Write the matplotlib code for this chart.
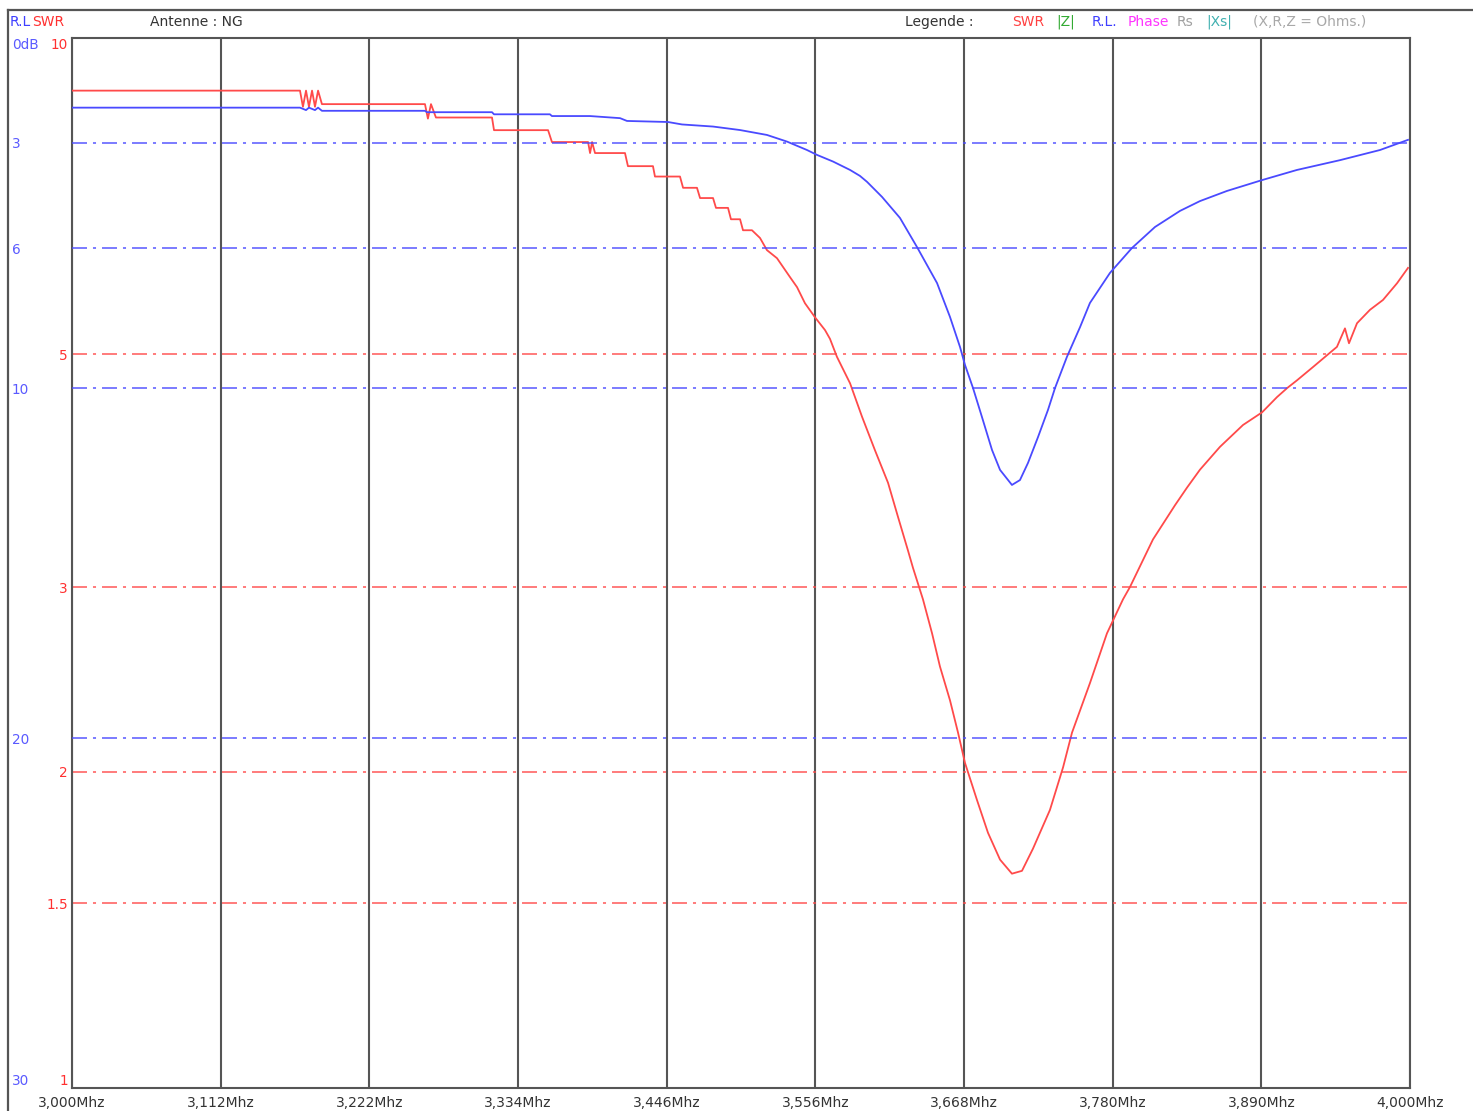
import matplotlib
matplotlib.use("Agg")
import matplotlib.pyplot as plt
from matplotlib.lines import Line2D
from matplotlib.ticker import NullLocator

plt.rcParams["font.family"] = ["DejaVu Sans"]
plt.rcParams["lines.scale_dashes"] = False

# ---- sweep data (frequency in MHz) ----
swr_freq = [3.0000, 3.1704, 3.1726, 3.1749, 3.1771, 3.1794, 3.1816, 3.1839, 3.1868,
            3.2638, 3.2660, 3.2683, 3.2720, 3.3139, 3.3154, 3.3558, 3.3587, 3.3857,
            3.3872, 3.3887, 3.3909, 3.4133, 3.4155, 3.4342, 3.4357, 3.4544, 3.4567,
            3.4671, 3.4694, 3.4791, 3.4813, 3.4903, 3.4925, 3.4993, 3.5015, 3.5082,
            3.5142, 3.5194, 3.5269, 3.5366, 3.5419, 3.5478, 3.5553, 3.5628, 3.5665,
            3.5717, 3.5815, 3.5904, 3.6001, 3.6099, 3.6173, 3.6248, 3.6285, 3.6360,
            3.6428, 3.6487, 3.6562, 3.6622, 3.6674, 3.6764, 3.6846, 3.6936, 3.7025,
            3.7100, 3.7182, 3.7309, 3.7407, 3.7474, 3.7608, 3.7735, 3.7855, 3.7907,
            3.8079, 3.8244, 3.8333, 3.8430, 3.8580, 3.8752, 3.8894, 3.9006, 3.9081,
            3.9155, 3.9275, 3.9454, 3.9514, 3.9544, 3.9604, 3.9701, 3.9798, 3.9903,
            3.9985]
swr_vals = [8.91, 8.91, 8.60, 8.91, 8.60, 8.91, 8.60, 8.91, 8.65,
            8.65, 8.38, 8.65, 8.40, 8.40, 8.17, 8.17, 7.96, 7.96,
            7.77, 7.96, 7.77, 7.77, 7.55, 7.55, 7.38, 7.38, 7.20,
            7.20, 7.04, 7.04, 6.89, 6.89, 6.72, 6.72, 6.56, 6.56,
            6.45, 6.28, 6.17, 5.92, 5.79, 5.59, 5.42, 5.27, 5.17,
            4.97, 4.69, 4.36, 4.05, 3.77, 3.50, 3.25, 3.13, 2.92,
            2.71, 2.52, 2.34, 2.18, 2.04, 1.88, 1.75, 1.65, 1.60,
            1.61, 1.69, 1.84, 2.02, 2.18, 2.43, 2.71, 2.92, 3.00,
            3.33, 3.59, 3.73, 3.88, 4.08, 4.28, 4.40, 4.55, 4.64,
            4.72, 4.86, 5.08, 5.29, 5.12, 5.35, 5.51, 5.63, 5.84,
            6.04]

rl_freq = [3.0000, 3.1704, 3.1749, 3.1771, 3.1816, 3.1839, 3.1868, 3.2638, 3.2653,
           3.3139, 3.3154, 3.3572, 3.3587, 3.3871, 3.4096, 3.4148, 3.4454, 3.4559,
           3.4791, 3.4993, 3.5194, 3.5344, 3.5493, 3.5568, 3.5688, 3.5815, 3.5889,
           3.5942, 3.6054, 3.6188, 3.6315, 3.6465, 3.6562, 3.6637, 3.6674, 3.6734,
           3.6801, 3.6876, 3.6936, 3.7025, 3.7085, 3.7145, 3.7220, 3.7294, 3.7347,
           3.7436, 3.7534, 3.7608, 3.7758, 3.7922, 3.8094, 3.8281, 3.8430, 3.8632,
           3.8894, 3.9155, 3.9477, 3.9776, 3.9985]
rl_vals = [1.99, 1.99, 2.06, 1.99, 2.06, 1.99, 2.08, 2.08, 2.12,
           2.12, 2.18, 2.18, 2.23, 2.23, 2.29, 2.37, 2.40, 2.47,
           2.53, 2.63, 2.77, 2.96, 3.20, 3.34, 3.53, 3.77, 3.94,
           4.11, 4.54, 5.14, 5.97, 7.00, 7.97, 8.83, 9.34, 10.00,
           10.83, 11.77, 12.34, 12.77, 12.63, 12.14, 11.40, 10.63, 10.00,
           9.11, 8.26, 7.57, 6.71, 6.00, 5.40, 4.94, 4.66, 4.37,
           4.06, 3.77, 3.49, 3.20, 2.91]

# ---- axis scales and labels ----
freq_ticks = [3.0 + i / 9 for i in range(10)]
freq_labels = ["3,000Mhz", "3,112Mhz", "3,222Mhz", "3,334Mhz", "3,446Mhz",
               "3,556Mhz", "3,668Mhz", "3,780Mhz", "3,890Mhz", "4,000Mhz"]
swr_ticks = [1, 1.5, 2, 3, 5, 10]
swr_labels = ["1", "1.5", "2", "3", "5", "10"]
swr_grid = [1.5, 2, 3, 5]
rl_ticks = [0, 3, 6, 10, 20, 30]
rl_labels = ["0dB", "3", "6", "10", "20", "30"]
rl_grid = [3, 6, 10, 20]

RED = "#ff4a4a"
BLUE = "#4a4aff"
GRID = "#555555"
DASHDOT = (0, (10.8, 4.3, 2.2, 4.3))

W, H = 1473, 1111
fig = plt.figure(figsize=(W / 100, H / 100), dpi=100)
L, R, T, B = 72, 1410, 38, 1088
ax = fig.add_axes([L / W, 1 - B / H, (R - L) / W, (B - T) / H])

# SWR on a log scale
ax.set_yscale("log")
ax.set_ylim(1, 10)
ax.set_xlim(3.0, 4.0)
ax.yaxis.set_minor_locator(NullLocator())
ax.set_yticks(swr_ticks)
ax.set_yticklabels(swr_labels)
ax.tick_params(axis="y", length=0, pad=3, labelcolor="#ff3030", labelsize=9.8)
ax.set_xticks(freq_ticks)
ax.set_xticklabels(freq_labels)
ax.tick_params(axis="x", length=0, pad=6, labelcolor="#333333", labelsize=10)
ax.grid(axis="x", color=GRID, lw=1.5)
ax.set_axisbelow(True)
for s in ax.spines.values():
    s.set_color(GRID)
    s.set_linewidth(1.5)

for lvl in swr_grid:
    ax.axhline(lvl, color=RED, lw=1.2, linestyle=DASHDOT, alpha=0.85, zorder=1)

# Return loss on a linear dB scale, 0 dB at the top
ax2 = ax.twinx()
ax2.set_ylim(30, 0)
ax2.yaxis.tick_left()
ax2.set_yticks(rl_ticks)
ax2.set_yticklabels(rl_labels)
ax2.tick_params(axis="y", length=0, pad=43.2, labelcolor="#5a5aff", labelsize=9.8)
for s in ax2.spines.values():
    s.set_visible(False)

for lvl in rl_grid:
    ax2.axhline(lvl, color=BLUE, lw=1.2, linestyle=DASHDOT, alpha=0.85, zorder=1)

ax.plot(swr_freq, swr_vals, color=RED, lw=1.3, zorder=3)
ax2.plot(rl_freq, rl_vals, color=BLUE, lw=1.3, zorder=3)

for lab in ax2.get_yticklabels():
    lab.set_horizontalalignment("left")
ylabs = ax.get_yticklabels()
ylabs[0].set_verticalalignment("bottom")
ylabs[-1].set_verticalalignment("top")
rlabs = ax2.get_yticklabels()
rlabs[0].set_verticalalignment("top")
rlabs[-1].set_verticalalignment("bottom")

# window frame
fig.add_artist(Line2D([8 / W, 1.0], [1 - 10 / H, 1 - 10 / H], color=GRID, lw=1.6))
fig.add_artist(Line2D([8 / W, 8 / W], [0.0, 1 - 10 / H], color=GRID, lw=1.6))

# header line
hy = 1 - 22 / H
header = [
    (10, "R.L", "#3f3fff"), (32, "SWR", "#ff3030"),
    (150, "Antenne : NG", "#333333"),
    (905, "Legende :", "#333333"),
    (1012, "SWR", "#ff4040"), (1056, "|Z|", "#33aa33"),
    (1092, "R.L.", "#3f3fff"), (1128, "Phase", "#ff33ff"),
    (1177, "Rs", "#a0a0a0"), (1206, "|Xs|", "#40b0b0"),
    (1253, "(X,R,Z = Ohms.)", "#a8a8a8"),
]
for x, txt, col in header:
    fig.text(x / W, hy, txt, color=col, fontsize=10, ha="left", va="center")

fig.savefig("out.png", dpi=100, facecolor="white")
